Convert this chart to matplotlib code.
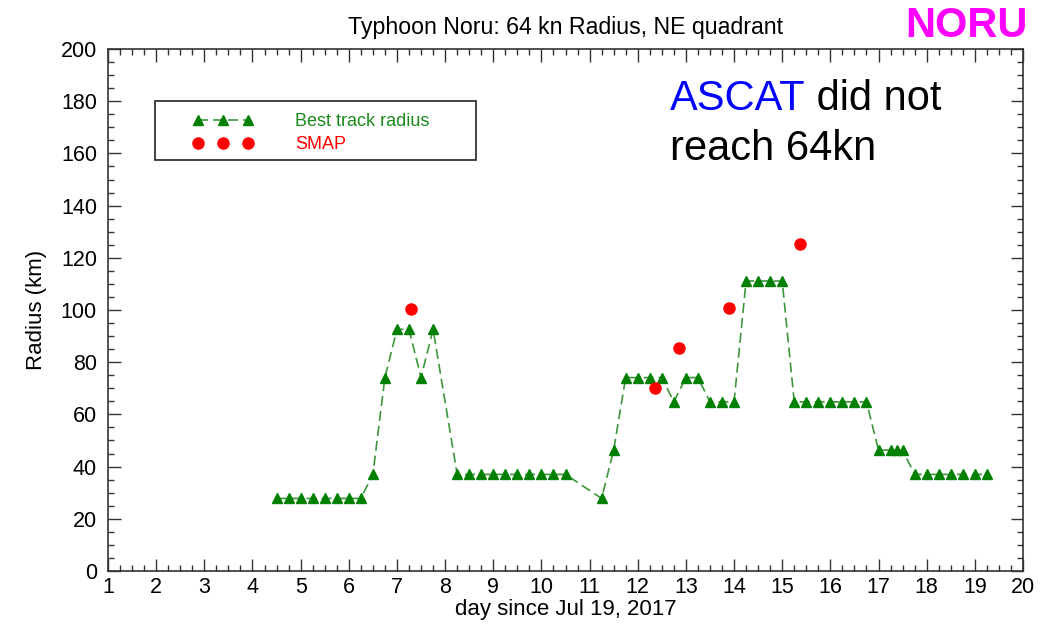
import numpy as np
import matplotlib
matplotlib.use('Agg')
import matplotlib.pyplot as plt
from matplotlib.patches import Rectangle
from matplotlib.ticker import MultipleLocator

plt.rcParams['font.family'] = ['Liberation Sans', 'DejaVu Sans']

# best track 64 kn radius, NE quadrant (km)
best_day = [4.5, 4.75, 5.0, 5.25, 5.5, 5.75, 6.0, 6.25, 6.5, 6.75,
            7.0, 7.25, 7.5, 7.75, 8.25, 8.5, 8.75, 9.0, 9.25, 9.5,
            9.75, 10.0, 10.25, 10.5, 11.25, 11.5, 11.75, 12.0, 12.25, 12.5,
            12.75, 13.0, 13.25, 13.5, 13.75, 14.0, 14.25, 14.5, 14.75, 15.0,
            15.25, 15.5, 15.75, 16.0, 16.25, 16.5, 16.75, 17.0, 17.25, 17.375,
            17.5, 17.75, 18.0, 18.25, 18.5, 18.75, 19.0, 19.25]
best_radius = [27.8, 27.8, 27.8, 27.8, 27.8, 27.8, 27.8, 27.8, 37.0, 74.1,
               92.6, 92.6, 74.1, 92.6, 37.0, 37.0, 37.0, 37.0, 37.0, 37.0,
               37.0, 37.0, 37.0, 37.0, 27.8, 46.3, 74.1, 74.1, 74.1, 74.1,
               64.8, 74.1, 74.1, 64.8, 64.8, 64.8, 111.1, 111.1, 111.1, 111.1,
               64.8, 64.8, 64.8, 64.8, 64.8, 64.8, 64.8, 46.3, 46.3, 46.3,
               46.3, 37.0, 37.0, 37.0, 37.0, 37.0, 37.0, 37.0]

# SMAP estimates
smap_day = [7.3, 12.35, 12.85, 13.9, 15.37]
smap_radius = [100.3, 70.2, 85.4, 100.8, 125.3]

xticks = list(range(1, 21))
yticks = list(range(0, 201, 20))

fig = plt.figure(figsize=(10.58, 6.26), dpi=100)
ax = fig.add_axes([0.1021, 0.0879, 0.8648, 0.8338])

ax.plot(best_day, best_radius, color='#3c963c', lw=1.2, dashes=(6, 3),
        marker='^', markersize=7.5, markerfacecolor='#008000',
        markeredgecolor='#008000', label='Best track radius')
ax.plot(smap_day, smap_radius, linestyle='none', marker='o', markersize=8,
        color='#ff0000', label='SMAP')

ax.set_xlim(1, 20)
ax.set_ylim(0, 200)
ax.set_xticks(xticks)
ax.set_yticks(yticks)
ax.xaxis.set_minor_locator(MultipleLocator(0.25))
ax.yaxis.set_minor_locator(MultipleLocator(5))
ax.tick_params(which='both', direction='in', top=True, right=True,
               color='#333333', width=1.0, labelsize=15.5)
ax.tick_params(which='major', length=9)
ax.tick_params(which='minor', length=4.5)
ax.tick_params(axis='x', pad=4)
ax.tick_params(axis='y', pad=8)
for s in ax.spines.values():
    s.set_color('#333333')
    s.set_linewidth(1.2)

ax.set_xlabel('day since Jul 19, 2017', fontsize=16, labelpad=1)
ax.set_ylabel('Radius (km)', fontsize=16, labelpad=10)
ax.set_title('Typhoon Noru: 64 kn Radius, NE quadrant', fontsize=16.7, pad=11)

# legend: frameless, plus a plain box around it
ax.legend(loc='upper left', bbox_to_anchor=(0.0923, 0.877), frameon=False,
          fontsize=13, numpoints=3, handlelength=3.4, handletextpad=2.3,
          borderaxespad=0, borderpad=0, labelspacing=0.32,
          labelcolor=['#1a8a1a', '#ff0000'])
ax.add_patch(Rectangle((0.0514, 0.787), 0.351, 0.113, transform=ax.transAxes,
                       fill=False, edgecolor='#222222', lw=1.2))

t1 = fig.text(0.633, 0.824, 'ASCAT', color='#0000ff', fontsize=30,
              va='baseline')
ax.annotate(' did not', xy=(1, 0), xycoords=t1, va='bottom', ha='left',
            fontsize=30, color='black', annotation_clip=False)
fig.text(0.633, 0.744, 'reach 64kn', color='black', fontsize=30,
         va='baseline')

fig.text(0.913, 0.941, 'NORU', color='#ff00ff', fontsize=30,
         fontweight='bold', ha='center', va='baseline')

fig.savefig('out.png', dpi=100)
